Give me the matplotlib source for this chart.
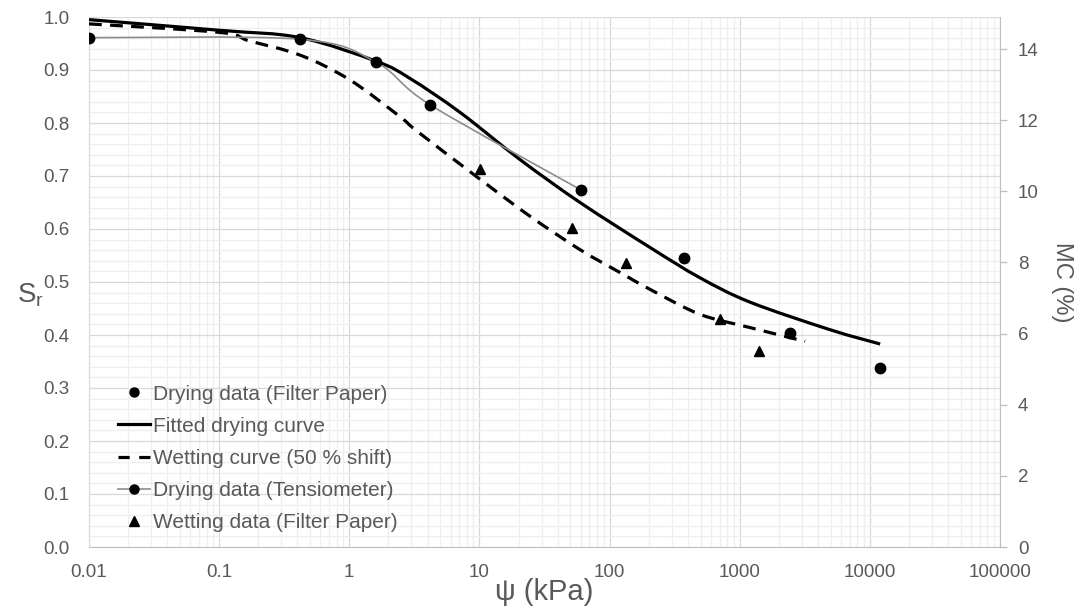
import numpy as np
import matplotlib
matplotlib.use('Agg')
import matplotlib.pyplot as plt
from matplotlib.path import Path
from matplotlib.patches import PathPatch
from matplotlib.lines import Line2D
from matplotlib.ticker import FixedLocator, FuncFormatter, MultipleLocator, NullFormatter

plt.rcParams['font.family'] = ['Liberation Sans', 'DejaVu Sans']
plt.rcParams['mathtext.default'] = 'regular'

# ---------------- data ----------------
tens_psi = [0.01, 0.42, 1.6, 4.2, 60]
tens_sr = [0.961, 0.958, 0.915, 0.834, 0.674]

dry_fp_psi = [373, 2440, 11970]
dry_fp_sr = [0.546, 0.403, 0.338]

wet_fp_psi = [10.1, 51, 134, 706, 1406]
wet_fp_sr = [0.713, 0.601, 0.535, 0.430, 0.370]

fit_psi = [0.01, 0.1, 0.42, 1.63, 2.93, 7.1, 20.5, 59.3, 205, 495, 1200, 4940, 12000]
fit_sr = [0.995, 0.975, 0.961, 0.916, 0.884, 0.820, 0.731, 0.650, 0.565, 0.508, 0.462, 0.410, 0.383]

wet_psi = [0.01, 0.1, 0.17, 0.42, 1.0, 2.45, 3.3, 9.6, 24.5, 59.3, 120, 205, 495, 1200, 3180]
wet_sr = [0.987, 0.971, 0.955, 0.928, 0.882, 0.812, 0.785, 0.698, 0.624, 0.561, 0.518, 0.486, 0.439, 0.414, 0.388]

x_ticks = [0.01, 0.1, 1, 10, 100, 1000, 10000, 100000]
mc_ticks = [0, 2, 4, 6, 8, 10, 12, 14]

labels = ['Drying data (Filter Paper)', 'Fitted drying curve', 'Wetting curve (50 % shift)',
          'Drying data (Tensiometer)', 'Wetting data (Filter Paper)']

# ---------------- helpers ----------------
def smooth_path(xs, ys):
    lx = np.log10(np.asarray(xs, float))
    y = np.asarray(ys, float)
    n = len(lx)
    verts = [(lx[0], y[0])]
    codes = [Path.MOVETO]
    for i in range(n - 1):
        p0 = i - 1 if i > 0 else i
        p3 = i + 2 if i + 2 < n else i + 1
        c1 = (lx[i] + (lx[i + 1] - lx[p0]) / 6.0, y[i] + (y[i + 1] - y[p0]) / 6.0)
        c2 = (lx[i + 1] - (lx[p3] - lx[i]) / 6.0, y[i + 1] - (y[p3] - y[i]) / 6.0)
        verts += [c1, c2, (lx[i + 1], y[i + 1])]
        codes += [Path.CURVE4] * 3
    verts = [(10 ** a, b) for a, b in verts]
    return Path(verts, codes)

TXT = '#595959'
FS = 13.5

fig = plt.figure(figsize=(10.81, 6.08), dpi=100)
ax = fig.add_axes([89 / 1081, 61 / 608, 911 / 1081, 530 / 608])
ax.set_xscale('log')
ax.set_xlim(0.01, 100000)
ax.set_ylim(0, 1.0)

# grid
ax.xaxis.set_major_locator(FixedLocator(x_ticks))
minors = [m * 10 ** k for k in range(-2, 5) for m in range(2, 10)]
ax.xaxis.set_minor_locator(FixedLocator(minors))
ax.xaxis.set_minor_formatter(NullFormatter())
ax.xaxis.set_major_formatter(FuncFormatter(lambda v, p: '{:g}'.format(v)))
ax.yaxis.set_major_locator(MultipleLocator(0.1))
ax.yaxis.set_minor_locator(MultipleLocator(0.02))
ax.yaxis.set_major_formatter(FuncFormatter(lambda v, p: '{:.1f}'.format(v)))
ax.grid(which='major', color='#d9d9d9', lw=0.9)
ax.grid(which='minor', color='#efefef', lw=0.9)
ax.set_axisbelow(True)

ax.tick_params(which='both', length=0)
ax.tick_params(axis='x', pad=12, labelsize=FS, labelcolor=TXT)
ax.tick_params(axis='y', pad=14, labelsize=FS, labelcolor=TXT)

for s in ['top', 'right']:
    ax.spines[s].set_visible(False)
ax.spines['left'].set_color('#d9d9d9')
ax.spines['bottom'].set_color('#bfbfbf')

# curves
ax.add_patch(PathPatch(smooth_path(fit_psi, fit_sr), fill=False, ec='black', lw=2.3, zorder=3,
                       capstyle='butt'))
ax.add_patch(PathPatch(smooth_path(wet_psi, wet_sr), fill=False, ec='black', lw=2.3, zorder=3,
                       linestyle=(0, (4, 2.6))))
ax.add_patch(PathPatch(smooth_path(tens_psi, tens_sr), fill=False, ec='#8c8c8c', lw=1.2, zorder=4))

ax.plot(tens_psi, tens_sr, ls='none', marker='o', ms=7.5, color='black', zorder=5)
ax.plot(dry_fp_psi, dry_fp_sr, ls='none', marker='o', ms=7.5, color='black', zorder=5)
ax.plot(wet_fp_psi, wet_fp_sr, ls='none', marker='^', ms=7, color='black', zorder=5)

ax.set_xlabel('ψ (kPa)', fontsize=21, color=TXT)
ax.xaxis.set_label_coords(0.5, -0.085)
ax.xaxis.label.set_va('center')
ax.set_ylabel('S$_r$', fontsize=20, color=TXT, rotation=0, ha='center', va='center')
ax.yaxis.set_label_coords(-0.064, 0.475)

# right axis
ax2 = ax.twinx()
ax2.set_ylim(0, 14.9)
ax2.yaxis.set_major_locator(FixedLocator(mc_ticks))
ax2.tick_params(axis='y', length=5, width=0.9, color='#bfbfbf', pad=8, labelsize=FS, labelcolor=TXT)
for s in ['top', 'left', 'bottom']:
    ax2.spines[s].set_visible(False)
ax2.spines['right'].set_color('#bfbfbf')
ax2.set_ylabel('MC (%)', fontsize=17, color=TXT, rotation=270, va='center')
ax2.yaxis.set_label_coords(1.068, 0.5)

# legend
handles = [
    Line2D([], [], ls='none', marker='o', ms=6.5, color='black'),
    Line2D([], [], color='black', lw=2.3),
    Line2D([], [], color='black', lw=2.3, linestyle=(0, (3.5, 3))),
    Line2D([], [], color='#8c8c8c', lw=1.2, marker='o', ms=6.5, mfc='black', mec='black'),
    Line2D([], [], ls='none', marker='^', ms=6.5, color='black'),
]
leg = ax.legend(handles, labels, loc='lower left', bbox_to_anchor=(0.032, 0.028),
                frameon=False, fontsize=15, labelcolor=TXT, handlelength=1.55,
                handletextpad=0.1, labelspacing=0.63, borderpad=0, borderaxespad=0)
leg.set_zorder(6)

fig.savefig('out.png', dpi=100)
